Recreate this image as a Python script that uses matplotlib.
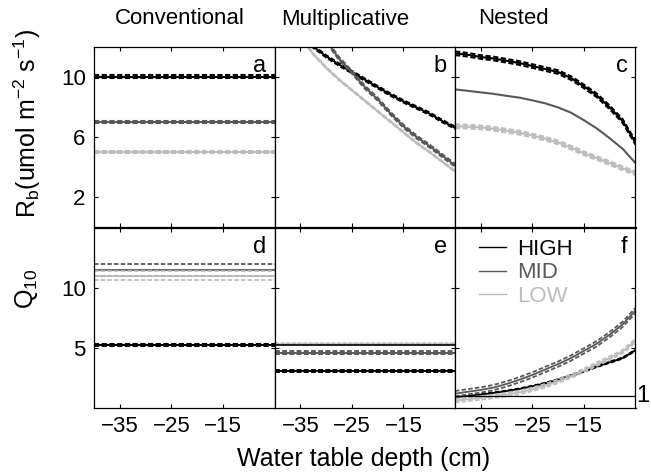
import numpy as np
import matplotlib
matplotlib.use("Agg")
import matplotlib.pyplot as plt

plt.rcParams['font.family'] = ['Liberation Sans', 'DejaVu Sans']
plt.rcParams['mathtext.fontset'] = 'custom'
plt.rcParams['mathtext.rm'] = 'Liberation Sans'

levels = ["HIGH", "MID", "LOW"]
colors = {"HIGH": "#000000", "MID": "#595959", "LOW": "#bdbdbd"}
models = ["Conventional", "Multiplicative", "Nested"]

# water table depth grid (cm)
wtd = [-40, -37.5, -35, -32.5, -30, -27.5, -25, -22.5, -20, -17.5, -15,
       -12.5, -10, -7.5, -5]

# conventional model: constant parameters (mean, ci half-width)
rb_conv = {"HIGH": (10.0, 0.08), "MID": (7.0, 0.08), "LOW": (5.0, 0.05)}
q10_conv = {"HIGH": (5.2, 0.08), "MID": (11.45, 0.5), "LOW": (11.0, 0.4)}

# multiplicative model
rb_mult = {
    "HIGH": [15.6, 14.2, 13.0, 12.0, 11.35, 10.8, 10.3, 9.8, 9.3, 8.8, 8.35,
             7.95, 7.55, 7.05, 6.6],
    "MID": [21.5, 18.5, 15.8, 13.8, 12.4, 11.2, 10.3, 9.3, 8.5, 7.55, 6.7,
            6.0, 5.4, 4.75, 4.1],
    "LOW": [15.4, 14.0, 12.7, 11.5, 10.6, 9.8, 9.1, 8.4, 7.7, 7.0, 6.3,
            5.6, 5.0, 4.35, 3.7],
}
mult_ci = {"HIGH": 0.08, "MID": 0.1, "LOW": 0.04}
q10_mult = {"HIGH": (3.1, 0.08), "MID": (4.6, 0.1), "LOW": (5.35, 0.07)}

# nested model
rb_nest = {
    "HIGH": [11.55, 11.45, 11.3, 11.2, 11.05, 10.9, 10.7, 10.5, 10.3, 9.9,
             9.35, 8.75, 7.95, 7.05, 5.6],
    "MID": [9.15, 9.05, 8.95, 8.85, 8.72, 8.6, 8.42, 8.22, 7.95, 7.6, 7.1,
            6.55, 5.9, 5.2, 4.25],
    "LOW": [6.7, 6.67, 6.62, 6.53, 6.4, 6.27, 6.08, 5.87, 5.62, 5.28, 4.9,
            4.58, 4.25, 3.9, 3.58],
}
q10_nest = {
    "HIGH": [0.9, 1.0, 1.12, 1.25, 1.4, 1.58, 1.8, 2.05, 2.35, 2.7, 3.05,
             3.45, 3.8, 4.15, 4.8],
    "MID": [1.19, 1.35, 1.5, 1.7, 2.0, 2.35, 2.75, 3.2, 3.65, 4.15, 4.75,
            5.35, 6.1, 6.95, 8.1],
    "LOW": [0.62, 0.72, 0.84, 0.97, 1.12, 1.3, 1.55, 1.85, 2.22, 2.65, 3.12,
            3.65, 4.15, 4.68, 5.6],
}
nest_ci = {"HIGH": 0.12, "MID": 0.15, "LOW": 0.12}
nest_q_ci = {"HIGH": 0.05, "MID": 0.22, "LOW": 0.15}

panel_letters = ["a", "b", "c", "d", "e", "f"]


def draw_band(ax, x, mean, half, color, lw=1.5):
    mean = np.asarray(mean, dtype=float)
    ax.plot(x, mean, color=color, lw=lw, solid_capstyle='butt')
    ax.plot(x, mean + half, color=color, lw=lw, ls=(0, (2.5, 1.2)))
    ax.plot(x, mean - half, color=color, lw=lw, ls=(0, (2.5, 1.2)))


fig = plt.figure(figsize=(6.51, 4.75), dpi=100)
left, width = 94 / 651, 180.5 / 651
top_b, bot_b, h = 1 - 227 / 475, 1 - 408 / 475, 180.5 / 475

axes = []
for row, b in enumerate([top_b, bot_b]):
    for col in range(3):
        ax = fig.add_axes([left + col * width, b, width, h])
        axes.append(ax)

for i, ax in enumerate(axes):
    row, col = divmod(i, 3)
    ax.set_xlim(-40, -5)
    ax.set_xticks([-35, -25, -15])
    if row == 0:
        ax.set_ylim(0, 12)
        ax.set_yticks([2, 6, 10])
    else:
        ax.set_ylim(0, 15)
        ax.set_yticks([5, 10])
    ax.tick_params(direction='in', length=3, width=0.8, top=True, right=True,
                   labelsize=16, pad=6)
    if col > 0:
        ax.tick_params(labelleft=False)
    if row == 0:
        ax.tick_params(labelbottom=False)
    for s in ax.spines.values():
        s.set_linewidth(0.9)
    ax.text(0.955, 0.955, panel_letters[i], transform=ax.transAxes,
            ha='right', va='top', fontsize=17)

ax_a, ax_b, ax_c, ax_d, ax_e, ax_f = axes

for lev in levels:
    c = colors[lev]
    m, hw = rb_conv[lev]
    draw_band(ax_a, [-40, -5], [m, m], hw, c)
    m, hw = q10_conv[lev]
    draw_band(ax_d, [-40, -5], [m, m], hw, c, lw=1.3 if lev != "HIGH" else 1.5)

    draw_band(ax_b, wtd, rb_mult[lev], mult_ci[lev], c, lw=1.4)
    m, hw = q10_mult[lev]
    draw_band(ax_e, [-40, -5], [m, m], hw, c, lw=1.4 if lev != "LOW" else 1.1)

    if lev == "MID":
        ax_c.plot(wtd, rb_nest[lev], color=c, lw=1.5)
    else:
        draw_band(ax_c, wtd, rb_nest[lev], nest_ci[lev], c)
    draw_band(ax_f, wtd, q10_nest[lev], nest_q_ci[lev], c, lw=1.3)

# conventional HIGH Q10 carried over for comparison
ax_e.axhline(q10_conv["HIGH"][0], color='black', lw=1.2)

# Q10 = 1 reference
ax_f.axhline(1, color='black', lw=0.9)
ax_f.text(1.005, 1, "1", transform=ax_f.get_yaxis_transform(),
          ha='left', va='center', fontsize=17)

handles = [plt.Line2D([], [], color=colors[l], lw=1.0) for l in levels]
leg = ax_f.legend(handles, levels, loc='upper left', frameon=False,
                  fontsize=16, handlelength=1.2, handletextpad=0.5,
                  labelspacing=0.1, borderpad=0, borderaxespad=0,
                  bbox_to_anchor=(0.135, 0.935))
for txt, l in zip(leg.get_texts(), levels):
    txt.set_color(colors[l])

for col, (name, xc) in enumerate(zip(models, [180, 345, 513])):
    fig.text(xc / 651, 1 - 19 / 475, name, ha='center', va='center', fontsize=16)

fig.text(364 / 651, 1 - 459 / 475, "Water table depth (cm)", ha='center',
         va='center', fontsize=18)
fig.text(27 / 651, 1 - 123 / 475,
         r'R$_\mathregular{b}$(umol m$^\mathregular{-2}$ s$^\mathregular{-1}$)',
         rotation=90, ha='center', va='center', fontsize=18)
fig.text(27 / 651, 1 - 289 / 475, r'Q$_\mathregular{10}$', rotation=90,
         ha='center', va='center', fontsize=18)

fig.savefig("out.png", dpi=100)
